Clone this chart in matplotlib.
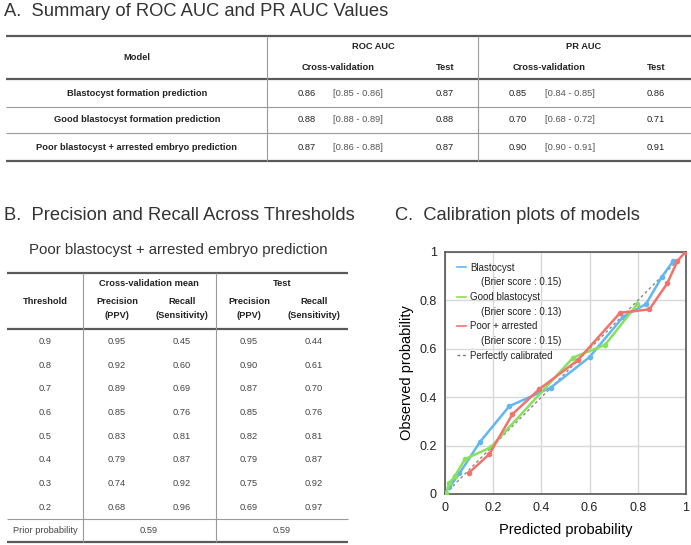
import numpy as np
import matplotlib
matplotlib.use('Agg')
import matplotlib.pyplot as plt
from matplotlib.lines import Line2D

plt.rcParams['font.family'] = ['Liberation Sans', 'DejaVu Sans']

# ---- data: panel A ----
models = ['Blastocyst formation prediction',
          'Good blastocyst formation prediction',
          'Poor blastocyst + arrested embryo prediction']
roc_cv = [0.86, 0.88, 0.87]
roc_cv_lo = [0.85, 0.88, 0.86]
roc_cv_hi = [0.86, 0.89, 0.88]
roc_test = [0.87, 0.88, 0.87]
pr_cv = [0.85, 0.70, 0.90]
pr_cv_lo = [0.84, 0.68, 0.90]
pr_cv_hi = [0.85, 0.72, 0.91]
pr_test = [0.86, 0.71, 0.91]

# ---- data: panel B ----
thresholds = [0.9, 0.8, 0.7, 0.6, 0.5, 0.4, 0.3, 0.2]
cv_precision = [0.95, 0.92, 0.89, 0.85, 0.83, 0.79, 0.74, 0.68]
cv_recall = [0.45, 0.60, 0.69, 0.76, 0.81, 0.87, 0.92, 0.96]
test_precision = [0.95, 0.90, 0.87, 0.85, 0.82, 0.79, 0.75, 0.69]
test_recall = [0.44, 0.61, 0.70, 0.76, 0.81, 0.87, 0.92, 0.97]
prior_cv = 0.59
prior_test = 0.59

# ---- data: panel C (calibration curves) ----
blast_pred = [0.018, 0.06, 0.145, 0.267, 0.438, 0.60, 0.74, 0.834, 0.899, 0.947]
blast_obs = [0.028, 0.085, 0.215, 0.363, 0.439, 0.566, 0.733, 0.785, 0.896, 0.963]
good_pred = [0.005, 0.018, 0.041, 0.083, 0.19, 0.532, 0.664, 0.798]
good_obs = [0.004, 0.045, 0.074, 0.144, 0.193, 0.564, 0.616, 0.785]
poor_pred = [0.10, 0.184, 0.28, 0.392, 0.55, 0.727, 0.848, 0.922, 0.964, 0.996]
poor_obs = [0.088, 0.165, 0.33, 0.434, 0.552, 0.749, 0.763, 0.87, 0.962, 0.999]
brier = {'Blastocyst': 0.15, 'Good blastocyst': 0.13, 'Poor + arrested': 0.15}

BLUE = '#62b6f2'
GREEN = '#86e25a'
RED = '#f2736c'
DARK = '#222222'
LINE = '#5a5a5a'
THIN = '#9a9a9a'
TSIZE = 13.2
CELL = 6.7

fig = plt.figure(figsize=(6.91, 5.45), dpi=100)
# pixel-space overlay for the two tables and titles
bg = fig.add_axes([0, 0, 1, 1])
bg.set_xlim(0, 691)
bg.set_ylim(545, 0)
bg.axis('off')


def hline(y, x0, x1, lw, c):
    bg.plot([x0, x1], [y, y], color=c, lw=lw, solid_capstyle='butt')


def vline(x, y0, y1, lw=0.8, c=THIN):
    bg.plot([x, x], [y0, y1], color=c, lw=lw, solid_capstyle='butt')


def txt(x, y, s, size=CELL, weight='normal', color=DARK, ha='center'):
    bg.text(x, y, s, fontsize=size, fontweight=weight, color=color,
            ha=ha, va='center')


# ---------------- Panel A ----------------
bg.text(4, 12, 'A.  Summary of ROC AUC and PR AUC Values', fontsize=TSIZE,
        color='#333333', ha='left', va='center')

a_top, a_head, a_bot = 35.5, 79, 161
a_rows = [93.3, 120, 147]
a_left, a_right = 6, 691
hline(a_top, a_left, a_right, 1.6, LINE)
hline(a_head, a_left, a_right, 1.6, LINE)
hline(a_bot, a_left, a_right, 1.6, LINE)
for y in [106.5, 133.3]:
    hline(y, a_left, a_right, 0.8, THIN)
vline(267, a_top, a_bot)
vline(478, a_top, a_bot)

txt(137, 57, 'Model', weight='bold')
for off, name in [(0, 'ROC AUC'), (211, 'PR AUC')]:
    txt(373 + off, 46.5, name, weight='bold')
    txt(338 + off, 67.5, 'Cross-validation', weight='bold')
    txt(445 + off, 67.5, 'Test', weight='bold')

for i, y in enumerate(a_rows):
    txt(137, y, models[i], weight='bold')
    txt(307, y, f'{roc_cv[i]:.2f}')
    txt(358, y, f'[{roc_cv_lo[i]:.2f} - {roc_cv_hi[i]:.2f}]', color='#555555')
    txt(445, y, f'{roc_test[i]:.2f}')
    txt(518, y, f'{pr_cv[i]:.2f}')
    txt(570, y, f'[{pr_cv_lo[i]:.2f} - {pr_cv_hi[i]:.2f}]', color='#555555')
    txt(656, y, f'{pr_test[i]:.2f}')

# ---------------- Panel B ----------------
bg.text(4, 216, 'B.  Precision and Recall Across Thresholds', fontsize=TSIZE,
        color='#333333', ha='left', va='center')
bg.text(178, 250, 'Poor blastocyst + arrested embryo prediction',
        fontsize=10.8, color='#333333', ha='center', va='center')

b_top, b_head, b_prior, b_bot = 273, 329, 519, 542
b_left, b_right = 7, 348
hline(b_top, b_left, b_right, 1.6, LINE)
hline(b_head, b_left, b_right, 1.6, LINE)
hline(b_prior, b_left, b_right, 0.8, THIN)
hline(b_bot, b_left, b_right, 1.6, LINE)
vline(83, b_top, b_bot)
vline(216, b_top, b_bot)

txt(149, 283, 'Cross-validation mean', weight='bold')
txt(282, 283, 'Test', weight='bold')
txt(45, 301, 'Threshold', weight='bold')
for xp, xr in [(117, 182), (249, 314)]:
    txt(xp, 301, 'Precision', weight='bold')
    txt(xp, 316, '(PPV)', weight='bold')
    txt(xr, 301, 'Recall', weight='bold')
    txt(xr, 316, '(Sensitivity)', weight='bold')

row_y = 341.3 + 23.7 * np.arange(len(thresholds))
for i, y in enumerate(row_y):
    txt(45, y, f'{thresholds[i]:.1f}', color='#444444')
    txt(117, y, f'{cv_precision[i]:.2f}', color='#444444')
    txt(182, y, f'{cv_recall[i]:.2f}', color='#444444')
    txt(249, y, f'{test_precision[i]:.2f}', color='#444444')
    txt(314, y, f'{test_recall[i]:.2f}', color='#444444')
txt(45, 530.7, 'Prior probability', color='#444444')
txt(149, 530.7, f'{prior_cv:.2f}', color='#444444')
txt(282, 530.7, f'{prior_test:.2f}', color='#444444')

# ---------------- Panel C ----------------
bg.text(395, 216, 'C.  Calibration plots of models', fontsize=TSIZE,
        color='#333333', ha='left', va='center')

ax = fig.add_axes([445 / 691, 51 / 545, 241 / 691, 242 / 545])
ax.set_xlim(0, 1)
ax.set_ylim(0, 1)
ticks = [0, 0.2, 0.4, 0.6, 0.8, 1]
ax.set_xticks(ticks)
ax.set_yticks(ticks)
ax.set_xticklabels(['0', '0.2', '0.4', '0.6', '0.8', '1'])
ax.set_yticklabels(['0', '0.2', '0.4', '0.6', '0.8', '1'])
ax.tick_params(length=0, labelsize=9, pad=6, colors='#222222')
ax.grid(True, color='#d8d8d8', lw=1)
ax.set_axisbelow(True)
for s in ax.spines.values():
    s.set_color('#555555')
    s.set_linewidth(1.2)

ax.plot([0, 1], [0, 1], ls=(0, (2, 2)), color='#888888', lw=1, zorder=2)
l1, = ax.plot(blast_pred, blast_obs, color=BLUE, lw=1.8, marker='o', ms=3, zorder=3)
l2, = ax.plot(good_pred, good_obs, color=GREEN, lw=1.8, marker='o', ms=3, zorder=3)
l3, = ax.plot(poor_pred, poor_obs, color=RED, lw=1.8, marker='o', ms=3, zorder=3)
ax.set_xlabel('Predicted probability', fontsize=10.5, labelpad=6)
ax.set_ylabel('Observed probability', fontsize=10.5, labelpad=4)

blank = Line2D([], [], color='none')
h1 = Line2D([], [], color=BLUE, lw=1.2)
h2 = Line2D([], [], color=GREEN, lw=1.2)
h3 = Line2D([], [], color=RED, lw=1.2)
h4 = Line2D([], [], color='#777777', lw=1, ls=(0, (2, 2)))
names = list(brier.keys())
handles = [h1, blank, h2, blank, h3, blank, h4]
labels = [names[0], f'    (Brier score : {brier[names[0]]:.2f})',
          names[1], f'    (Brier score : {brier[names[1]]:.2f})',
          names[2], f'    (Brier score : {brier[names[2]]:.2f})',
          'Perfectly calibrated']
ax.legend(handles, labels, loc='upper left', bbox_to_anchor=(0.02, 0.984),
          frameon=False, fontsize=7, handlelength=1.0, handletextpad=0.4,
          labelspacing=0.48, borderaxespad=0.3, labelcolor='#222222')

fig.savefig('out.png', dpi=100)
